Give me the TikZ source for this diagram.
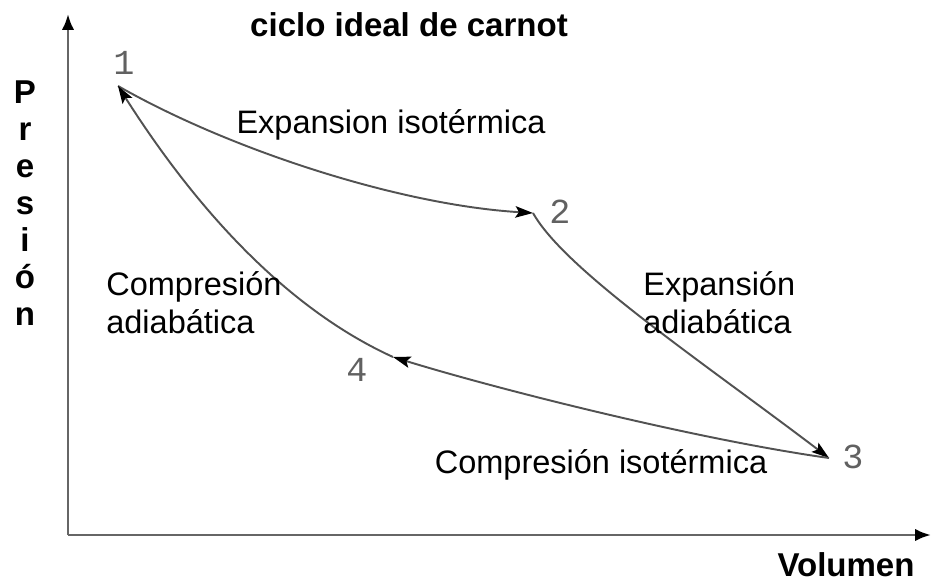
\documentclass[tikz,border=0pt]{standalone}
\usepackage{fontspec}
\setmainfont{Liberation Sans}
\newfontfamily\digitfont{Liberation Mono}
\usepackage{tikz}
\usetikzlibrary{arrows.meta}

\begin{document}
\begin{tikzpicture}[x=0.02cm, y=-0.02cm,
    txt/.style={font=\fontsize{18.5}{21.5}\selectfont, inner sep=0pt},
    bold/.style={font=\fontsize{18.8}{21}\selectfont\bfseries, inner sep=0pt},
    num/.style={font=\fontsize{20}{22}\selectfont\digitfont, text=black!62, inner sep=0pt},
    curve/.style={draw=black!68, line width=1.1pt, -{Stealth[length=10pt,width=6.5pt,inset=2pt,black]}},
    axis/.style={draw=black!60, line width=1.6pt, -{Latex[length=9pt,width=7pt,black]}}]
    \useasboundingbox (0,0) rectangle (932,584);
    \coordinate (o) at (68,535);
    \coordinate (ytop) at (68,14);
    \coordinate (xend) at (931,535);
    \draw[axis] (o) -- (ytop);
    \draw[axis] (o) -- (xend);
    \node[bold] (title) at (409,25) {ciclo ideal de carnot};
    \node[bold] (xlab) at (846,565) {Volumen};
    \node[bold, align=center] (ylab) at (25,203) {P\\r\\e\\s\\i\\ó\\n};
    \coordinate (p1) at (118,86);
    \coordinate (p2) at (533,213);
    \coordinate (p3) at (829,458);
    \coordinate (p4) at (393,357);
    \node[num] (n1) at (124,63) {1};
    \node[num] (n2) at (560,212) {2};
    \node[num] (n3) at (853,457) {3};
    \node[num] (n4) at (357,370) {4};
    \draw[curve] (p1) .. controls (230,150) and (400,205) .. (p2);
    \draw[curve] (p2) .. controls (565,270) and (700,360) .. (p3);
    \draw[curve] (p3) .. controls (700,440) and (500,390) .. (p4);
    \draw[curve] (p4) .. controls (290,310) and (200,215) .. (p1);
    \node[txt] (iso1) at (391,125) {Expansion isotérmica};
    \node[txt, anchor=west, align=left] (adi1) at (643,303) {Expansión\\adiabática};
    \node[txt] (iso2) at (601,465) {Compresión isotérmica};
    \node[txt, anchor=west, align=left] (adi2) at (106,303) {Compresión\\adiabática};
\end{tikzpicture}
\end{document}
